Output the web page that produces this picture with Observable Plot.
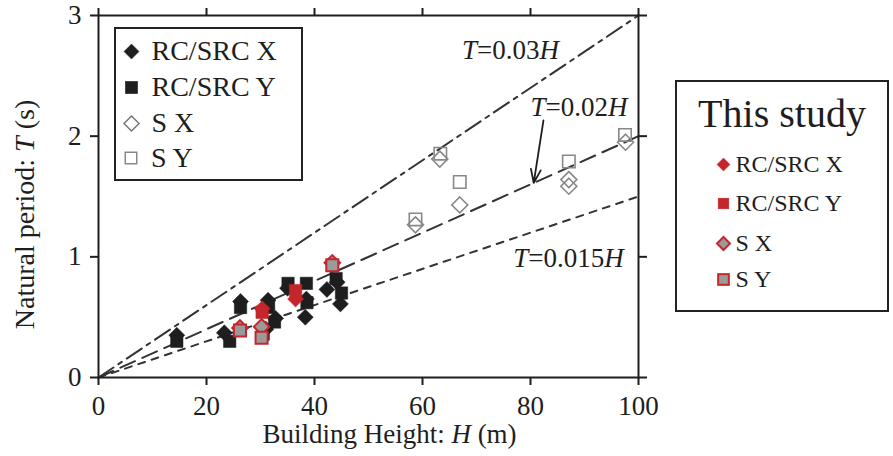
<!DOCTYPE html>
<html>
<head>
<meta charset="utf-8">
<script src="https://cdn.jsdelivr.net/npm/d3@7"></script>
<script src="https://cdn.jsdelivr.net/npm/@observablehq/plot@0.6"></script>
<style>
  body { margin: 0; background: #fff; }
  #chart { position: relative; width: 893px; height: 456px; font-family: "Liberation Serif", serif; color: #1e1e1e; }
  #chart > svg { position: absolute; left: 0; top: 0; }
  .legend { position: absolute; background: #fff; border: 2px solid #222; box-sizing: border-box; }
  .row { position: absolute; display: flex; align-items: center; white-space: nowrap; }
  #chart .row svg { position: static; display: block; flex: none; }
</style>
</head>
<body>
<div id="chart"></div>
<script>
// Building height H (m) and natural period T (s), compiled buildings
const rcsrcX = [[14.5,0.35],[23.3,0.37],[26.3,0.63],[31.4,0.64],[32.8,0.49],[31.0,0.40],[35.0,0.74],[38.3,0.50],[38.5,0.65],[42.3,0.73],[44.8,0.61],[44.2,0.79]];
const rcsrcY = [[14.5,0.30],[24.3,0.30],[26.3,0.58],[31.5,0.58],[32.6,0.46],[35.1,0.78],[38.5,0.78],[38.6,0.62],[44.0,0.82],[45.0,0.70],[30.5,0.36]];
const sX = [[58.7,1.265],[63.2,1.81],[66.9,1.43],[87.1,1.64],[87.1,1.585],[97.6,1.95]];
const sY = [[58.7,1.31],[63.3,1.855],[66.9,1.62],[87.1,1.79],[97.5,2.01]];

// This study
const studyRcX = [[36.5,0.65],[30.3,0.57]];
const studyRcY = [[36.5,0.72],[30.3,0.54]];
const studySX = [[26.2,0.41],[30.2,0.42],[43.3,0.95]];
const studySY = [[26.2,0.39],[30.2,0.33],[43.3,0.93]];

// Empirical formulas T = c·H
const slopes = [0.03, 0.02, 0.015];
const formulaLabels = ["T=0.03H", "T=0.02H", "T=0.015H"];
const heightRange = [0, 100];

const xTicks = [0, 20, 40, 60, 80, 100];
const yTicks = [0, 1, 2, 3];

const RED = "#c4262b";
const INK = "#1e1e1e";
const dashes = ["18,6,4,6", "16,8", "7,7"];

const formulaLines = slopes.map((c, i) =>
  Plot.line(heightRange.map(h => ({H: h, T: c * h})), {
    x: "H", y: "T", stroke: "#333", strokeWidth: 2, strokeDasharray: dashes[i]
  })
);

const labelSpots = [
  {text: formulaLabels[0], H: 67.3, T: 2.71},
  {text: formulaLabels[1], H: 80.0, T: 2.24},
  {text: formulaLabels[2], H: 76.8, T: 0.99}
];

const arrowH = 80.6;
const arrowSpec = [{x1: arrowH + 1.8, y1: 2.13, x2: arrowH, y2: slopes[1] * arrowH}];

const pt = {x: d => d[0], y: d => d[1]};

const plot = Plot.plot({
  width: 893,
  height: 456,
  marginLeft: 98,
  marginRight: 255,
  marginTop: 15,
  marginBottom: 79,
  x: {domain: [0, 100]},
  y: {domain: [0, 3]},
  style: {fontFamily: "Liberation Serif", fontSize: "27px", color: INK, background: "transparent", overflow: "visible"},
  marks: [
    ...formulaLines,
    Plot.dot(rcsrcX, {...pt, symbol: "diamond2", r: 7.2, fill: INK, stroke: INK, strokeWidth: 0.5}),
    Plot.dot(rcsrcY, {...pt, symbol: "square", r: 7.0, fill: INK, stroke: INK, strokeWidth: 0.5}),
    Plot.dot(sX, {...pt, symbol: "diamond2", r: 7.2, fill: "none", stroke: "#888", strokeWidth: 1.6}),
    Plot.dot(sY, {...pt, symbol: "square", r: 7.0, fill: "none", stroke: "#888", strokeWidth: 1.6}),
    Plot.dot(studySX, {...pt, symbol: "diamond2", r: 7.0, fill: "#9a9a9a", stroke: RED, strokeWidth: 2}),
    Plot.dot(studySY, {...pt, symbol: "square", r: 6.8, fill: "#9a9a9a", stroke: RED, strokeWidth: 2}),
    Plot.dot(studyRcX, {...pt, symbol: "diamond2", r: 7.2, fill: RED, stroke: RED, strokeWidth: 0.5}),
    Plot.dot(studyRcY, {...pt, symbol: "square", r: 7.0, fill: RED, stroke: RED, strokeWidth: 0.5}),
    Plot.text(labelSpots, {x: "H", y: "T", text: "text", textAnchor: "start", fill: INK, fontSize: 27}),
    Plot.arrow(arrowSpec, {x1: "x1", y1: "y1", x2: "x2", y2: "y2", stroke: INK, strokeWidth: 1.8, headLength: 12, headAngle: 40}),
    Plot.frame({stroke: INK, strokeWidth: 2}),
    Plot.axisX({ticks: xTicks, tickSize: 8, tickPadding: 10, tickFormat: d => String(d), label: null, strokeWidth: 2}),
    Plot.axisX({anchor: "top", ticks: xTicks, tickSize: 8, tickFormat: () => "", label: null, strokeWidth: 2}),
    Plot.axisY({ticks: yTicks, tickSize: 8, tickPadding: 9, tickFormat: d => String(d), label: null, strokeWidth: 2}),
    Plot.axisY({anchor: "right", ticks: yTicks, tickSize: 8, tickFormat: () => "", label: null, strokeWidth: 2}),
    Plot.text(["Building Height: H (m)"], {frameAnchor: "bottom", dx: 21, dy: 65, fill: INK, fontSize: 27}),
    Plot.text(["Natural period: T (s)"], {frameAnchor: "left", textAnchor: "middle", rotate: -90, dx: -73, dy: 18, fill: INK, fontSize: 28})
  ]
});

// Set the variable letters T and H in italics
function italicize(root) {
  d3.select(root).selectAll("text").each(function () {
    if (this.children.length) return;
    const s = this.textContent;
    const isVar = i => (s[i] === "T" || s[i] === "H") &&
      (i === 0 || !/[A-Za-z]/.test(s[i - 1])) &&
      (i === s.length - 1 || !/[a-z]/.test(s[i + 1]));
    let any = false;
    for (let i = 0; i < s.length; i++) if (isVar(i)) any = true;
    if (!any) return;
    const sel = d3.select(this);
    sel.text(null);
    let run = "", runItalic = false;
    const flush = () => {
      if (!run) return;
      const t = sel.append("tspan").text(run);
      if (runItalic) t.attr("font-style", "italic");
      run = "";
    };
    for (let i = 0; i < s.length; i++) {
      const it = isVar(i);
      if (it !== runItalic) { flush(); runItalic = it; }
      run += s[i];
    }
    flush();
  });
}
italicize(plot);

const chart = document.getElementById("chart");
chart.appendChild(plot);

// Legend symbols
function symbolSvg(kind, size, fill, stroke, sw) {
  const s = size + 6;
  const c = s / 2, h = size / 2;
  const svg = d3.create("svg").attr("width", s).attr("height", s);
  if (kind === "diamond") {
    svg.append("path").attr("d", `M${c},${c - h}L${c + h},${c}L${c},${c + h}L${c - h},${c}Z`);
  } else {
    const q = h * 0.82;
    svg.append("rect").attr("x", c - q).attr("y", c - q).attr("width", 2 * q).attr("height", 2 * q);
  }
  svg.selectAll("path,rect").attr("fill", fill).attr("stroke", stroke).attr("stroke-width", sw);
  return svg.node();
}

function legendBox(opts) {
  const box = document.createElement("div");
  box.className = "legend";
  Object.assign(box.style, {left: opts.left + "px", top: opts.top + "px", width: opts.width + "px", height: opts.height + "px"});
  if (opts.title) {
    const t = document.createElement("div");
    t.textContent = opts.title;
    Object.assign(t.style, {position: "absolute", left: "0", width: "100%", textAlign: "center", top: opts.titleTop + "px", fontSize: opts.titleSize + "px", lineHeight: "1"});
    box.appendChild(t);
  }
  opts.items.forEach((it, i) => {
    const row = document.createElement("div");
    row.className = "row";
    const lh = opts.fontSize + 6;
    Object.assign(row.style, {left: (opts.symX - (it.size + 6) / 2) + "px", top: (opts.rows[i] - lh / 2) + "px", height: lh + "px", fontSize: opts.fontSize + "px", lineHeight: lh + "px"});
    row.appendChild(symbolSvg(it.kind, it.size, it.fill, it.stroke, it.sw));
    const label = document.createElement("span");
    label.textContent = it.label;
    label.style.marginLeft = opts.gap + "px";
    row.appendChild(label);
    box.appendChild(row);
  });
  chart.appendChild(box);
}

legendBox({
  left: 114, top: 27, width: 189, height: 154,
  symX: 15, gap: 10, fontSize: 28,
  rows: [22, 58, 94, 129],
  items: [
    {label: "RC/SRC X", kind: "diamond", size: 15, fill: INK, stroke: INK, sw: 0.5},
    {label: "RC/SRC Y", kind: "square", size: 15, fill: INK, stroke: INK, sw: 0.5},
    {label: "S X", kind: "diamond", size: 15, fill: "none", stroke: "#777", sw: 1.5},
    {label: "S Y", kind: "square", size: 14, fill: "none", stroke: "#888", sw: 1.5}
  ]
});

legendBox({
  left: 675, top: 80, width: 214, height: 232,
  title: "This study", titleTop: 12, titleSize: 40,
  symX: 46, gap: 3, fontSize: 24,
  rows: [82, 121, 161, 197],
  items: [
    {label: "RC/SRC X", kind: "diamond", size: 13, fill: RED, stroke: RED, sw: 0.5},
    {label: "RC/SRC Y", kind: "square", size: 13, fill: RED, stroke: RED, sw: 0.5},
    {label: "S X", kind: "diamond", size: 13, fill: "#9a9a9a", stroke: RED, sw: 2},
    {label: "S Y", kind: "square", size: 13, fill: "#9a9a9a", stroke: RED, sw: 2}
  ]
});
</script>
</body>
</html>
